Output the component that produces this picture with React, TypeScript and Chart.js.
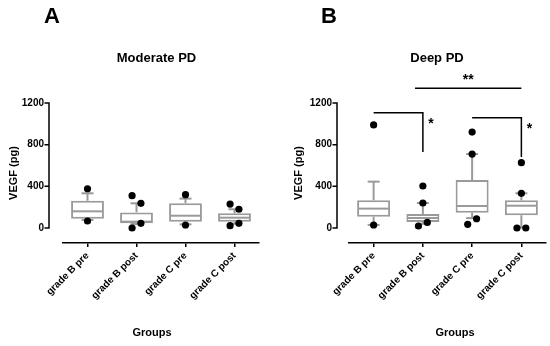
import React, { useEffect, useRef } from 'react';
import { Chart, registerables } from 'chart.js';

Chart.register(...registerables);

// ---------- data ----------
const categories = ['grade B pre', 'grade B post', 'grade C pre', 'grade C post'];
const yTicks = [0, 400, 800, 1200];

// Panel A: Moderate PD
const moderateQ1 = [90, 45, 61, 61];
const moderateMedian = [160, 61, 118, 99];
const moderateQ3 = [262, 150, 237, 141];
const moderateLow = [77, 38, 35, 40];
const moderateHigh = [333, 237, 282, 180];
const moderateOutliers = [[377, 67], [310, 237, 45, 0], [320, 29], [230, 180, 22, 45]];
const moderateSides = [[0, 0], [-1, 1, 1, -1], [0, 0], [-1, 1, -1, 1]];

// Panel B: Deep PD
const deepQ1 = [109, 58, 147, 122];
const deepMedian = [186, 96, 211, 214];
const deepQ3 = [266, 134, 461, 266];
const deepLow = [29, 40, 95, 5];
const deepHigh = [445, 240, 710, 333];
const deepOutliers = [[990, 29], [403, 240, 19, 54], [921, 710, 89, 35], [627, 333, 0, 0]];
const deepSides = [[0, 0], [0, 0, -1, 1], [0, 0, 1, -1], [0, 0, -1, 1]];

// significance brackets (Deep PD): from/to category, line value, drop value, label
const deepBrackets = [
  { from: 0, to: 1, y: 1107, drop: 730, label: '*' },
  { from: 2, to: 3, y: 1059, drop: 682, label: '*' },
];
const deepTopBar = { from: 0.84, to: 3, y: 1341, label: '**' };

// ---------- styles ----------
const FONT = '"Liberation Sans", Arial, Helvetica, sans-serif';
const BOX_COLOR = '#9a9a9a';
const JITTER = 0.09;

type Panel = {
  letter: string;
  title: string;
  q1: number[];
  median: number[];
  q3: number[];
  low: number[];
  high: number[];
  outliers: number[][];
  sides: number[][];
  brackets: { from: number; to: number; y: number; drop: number; label: string }[];
  topBar: { from: number; to: number; y: number; label: string } | null;
  yWidth: number;
  gap: number;
  padRight: number;
  yTitlePad: number;
  letterX: number;
  titleX: number;
  groupsX: number;
};

const panels: Panel[] = [
  {
    letter: 'A', title: 'Moderate PD',
    q1: moderateQ1, median: moderateMedian, q3: moderateQ3, low: moderateLow, high: moderateHigh,
    outliers: moderateOutliers, sides: moderateSides, brackets: [], topBar: null,
    yWidth: 63, gap: 14, padRight: 16, yTitlePad: 7.4, letterX: 52, titleX: 156.5, groupsX: 152,
  },
  {
    letter: 'B', title: 'Deep PD',
    q1: deepQ1, median: deepMedian, q3: deepQ3, low: deepLow, high: deepHigh,
    outliers: deepOutliers, sides: deepSides, brackets: deepBrackets, topBar: deepTopBar,
    yWidth: 74, gap: 12, padRight: 4, yTitlePad: 17.4, letterX: 54, titleX: 162, groupsX: 180,
  },
];

function seg(ctx: CanvasRenderingContext2D, x1: number, y1: number, x2: number, y2: number) {
  ctx.beginPath();
  ctx.moveTo(x1, y1);
  ctx.lineTo(x2, y2);
  ctx.stroke();
}

function makePlugin(p: Panel) {
  return {
    id: 'panelDecor' + p.letter,
    afterDatasetDraw(chart: any, args: any) {
      if (args.index !== 1) return;
      const ctx = chart.ctx as CanvasRenderingContext2D;
      const ys = chart.scales.y;
      const meta = chart.getDatasetMeta(1);
      ctx.save();
      ctx.strokeStyle = BOX_COLOR;
      ctx.lineWidth = 2;
      p.q1.forEach((q1, i) => {
        const cx = meta.data[i].x;
        const half = meta.data[i].width / 2;
        const capHalf = 6;
        const yq1 = ys.getPixelForValue(q1);
        const yq3 = ys.getPixelForValue(p.q3[i]);
        const yh = ys.getPixelForValue(p.high[i]);
        const yl = ys.getPixelForValue(p.low[i]);
        const ym = ys.getPixelForValue(p.median[i]);
        seg(ctx, cx - half + 1, ym, cx + half - 1, ym);
        seg(ctx, cx, yq3, cx, yh);
        seg(ctx, cx - capHalf, yh, cx + capHalf, yh);
        seg(ctx, cx, yq1, cx, yl);
        seg(ctx, cx - capHalf, yl, cx + capHalf, yl);
      });
      ctx.restore();
    },
    afterDraw(chart: any) {
      const ctx = chart.ctx as CanvasRenderingContext2D;
      const xs = chart.scales.x;
      const ys = chart.scales.y;
      const area = chart.chartArea;
      ctx.save();
      // y axis line and ticks (offset from plot)
      const ax = area.left - p.gap;
      ctx.strokeStyle = '#000000';
      ctx.lineWidth = 1.5;
      const yTop = ys.getPixelForValue(yTicks[yTicks.length - 1]);
      const yBot = ys.getPixelForValue(yTicks[0]);
      ctx.beginPath();
      ctx.moveTo(ax, yBot + 0.75);
      ctx.lineTo(ax, yTop - 0.75);
      yTicks.forEach((v) => {
        const yy = ys.getPixelForValue(v);
        ctx.moveTo(ax - 4.5, yy);
        ctx.lineTo(ax, yy);
      });
      ctx.stroke();
      // brackets
      ctx.fillStyle = '#000';
      ctx.font = `bold 14px ${FONT}`;
      ctx.textAlign = 'center';
      ctx.textBaseline = 'middle';
      p.brackets.forEach((b) => {
        const x1 = xs.getPixelForValue(b.from);
        const x2 = xs.getPixelForValue(b.to);
        const yy = ys.getPixelForValue(b.y);
        const yd = ys.getPixelForValue(b.drop);
        ctx.beginPath();
        ctx.moveTo(x1, yy);
        ctx.lineTo(x2, yy);
        ctx.lineTo(x2, yd);
        ctx.stroke();
        ctx.fillText(b.label, x2 + 8, yy + 11);
      });
      if (p.topBar) {
        const t = p.topBar;
        const w = (area.right - area.left) / categories.length;
        const x1 = area.left + (t.from + 0.5) * w;
        const x2 = area.left + (t.to + 0.5) * w;
        const yy = ys.getPixelForValue(t.y);
        seg(ctx, x1, yy, x2, yy);
        ctx.fillText(t.label, (x1 + x2) / 2, yy - 8);
      }
      // panel letter and titles
      ctx.textBaseline = 'alphabetic';
      ctx.font = `bold 22px ${FONT}`;
      ctx.fillText(p.letter, p.letterX, 23);
      ctx.font = `bold 13px ${FONT}`;
      ctx.fillText(p.title, p.titleX, 61.5);
      ctx.font = `bold 11px ${FONT}`;
      ctx.fillText('Groups', p.groupsX, 336);
      ctx.restore();
    },
  };
}

function makeConfig(p: Panel): any {
  const points: { x: number; y: number }[] = [];
  p.outliers.forEach((vals, i) => {
    vals.forEach((v, j) => {
      points.push({ x: i + (p.sides[i][j] || 0) * JITTER, y: v });
    });
  });
  return {
    type: 'bar',
    data: {
      labels: categories,
      datasets: [
        {
          type: 'scatter',
          data: points,
          xAxisID: 'xj',
          yAxisID: 'y',
          pointRadius: 3.6,
          pointHoverRadius: 3.6,
          backgroundColor: '#000',
          borderColor: '#000',
          borderWidth: 0,
          clip: false,
        },
        {
          type: 'bar',
          data: p.q1.map((q, i) => [q, p.q3[i]]),
          xAxisID: 'x',
          yAxisID: 'y',
          backgroundColor: '#ffffff',
          borderColor: BOX_COLOR,
          borderWidth: 2,
          borderSkipped: false,
          grouped: false,
          barPercentage: 0.67,
          categoryPercentage: 1,
        },
      ],
    },
    options: {
      responsive: false,
      animation: false,
      events: [],
      layout: { padding: { top: 103, left: 0, right: p.padRight, bottom: 0 } },
      plugins: { legend: { display: false }, tooltip: { enabled: false }, title: { display: false } },
      scales: {
        x: {
          type: 'category',
          offset: true,
          grid: { display: true, drawOnChartArea: false, drawTicks: true, tickLength: 4, color: '#000', lineWidth: 1.5, offset: false },
          border: { display: true, color: '#000', width: 1.5 },
          ticks: {
            color: '#000',
            font: { family: FONT, size: 10, weight: 'bold' },
            minRotation: 45,
            maxRotation: 45,
            padding: 3,
            autoSkip: false,
          },
          afterFit: (s: any) => {
            s.height = 103;
            s.paddingLeft = 0;
            s.paddingRight = 0;
          },
        },
        xj: {
          type: 'linear',
          display: false,
          offset: false,
          grid: { offset: false },
          bounds: 'ticks',
          min: -0.5,
          max: 3.5,
        },
        y: {
          type: 'linear',
          min: -144,
          max: 1200,
          afterBuildTicks: (s: any) => {
            s.ticks = yTicks.map((v) => ({ value: v }));
          },
          border: { display: false },
          grid: { display: false, drawTicks: false, tickLength: 0 },
          ticks: {
            color: '#000',
            font: { family: FONT, size: 10, weight: 'bold' },
            padding: p.gap + 5,
            callback: (v: any) => String(v),
          },
          title: {
            display: true,
            text: 'VEGF (pg)',
            color: '#000',
            font: { family: FONT, size: 11, weight: 'bold' },
            padding: { top: p.yTitlePad, bottom: 0 },
          },
          afterFit: (s: any) => {
            s.width = p.yWidth;
            s.paddingTop = 0;
            s.paddingBottom = 0;
          },
        },
      },
    },
    plugins: [makePlugin(p)],
  };
}

function PanelChart({ panel }: { panel: Panel }) {
  const ref = useRef<HTMLCanvasElement | null>(null);
  useEffect(() => {
    if (!ref.current) return;
    const chart = new Chart(ref.current, makeConfig(panel));
    return () => chart.destroy();
  }, [panel]);
  return <canvas ref={ref} width={275} height={346} style={{ display: 'block', width: 275, height: 346 }} />;
}

export default function App() {
  return (
    <div style={{ position: 'fixed', left: 0, top: 0, width: 550, height: 346, display: 'flex', background: '#fff' }}>
      {panels.map((p) => (
        <PanelChart key={p.letter} panel={p} />
      ))}
    </div>
  );
}
